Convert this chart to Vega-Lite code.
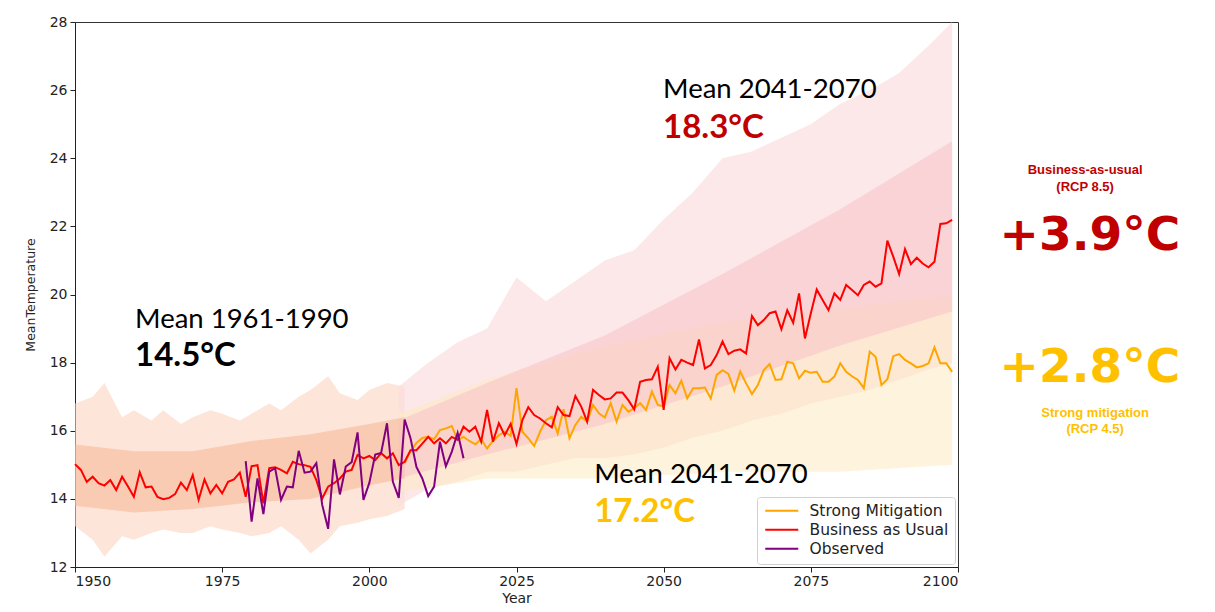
{
  "$schema": "https://vega.github.io/schema/vega-lite/v6.json",
  "autosize": {"type": "none"},
  "padding": {"left": 75, "top": 22, "right": 257, "bottom": 45},
  "width": 883,
  "height": 545,
  "background": "white",
  "data": {"values": [{}]},
  "datasets": {
    "hist_outer": [
      {"year":1950,"lo":13.2,"hi":16.8},{"year":1953,"lo":12.8,"hi":17.0},{"year":1955,"lo":12.3,"hi":17.4},{"year":1958,"lo":12.9,"hi":16.4},{"year":1960,"lo":12.8,"hi":16.6},{"year":1963,"lo":13.0,"hi":16.3},{"year":1965,"lo":13.1,"hi":16.6},{"year":1968,"lo":13.0,"hi":16.2},{"year":1970,"lo":13.0,"hi":16.4},{"year":1973,"lo":13.2,"hi":16.6},{"year":1975,"lo":13.1,"hi":16.5},{"year":1978,"lo":13.0,"hi":16.3},{"year":1980,"lo":12.9,"hi":16.5},{"year":1983,"lo":13.0,"hi":16.8},{"year":1985,"lo":13.2,"hi":16.6},{"year":1988,"lo":12.8,"hi":17.0},{"year":1990,"lo":12.4,"hi":17.2},{"year":1993,"lo":12.8,"hi":17.6},{"year":1995,"lo":13.2,"hi":17.1},{"year":1998,"lo":13.3,"hi":16.9},{"year":2000,"lo":13.4,"hi":17.2},{"year":2003,"lo":13.5,"hi":17.4},{"year":2006,"lo":13.7,"hi":17.3}
    ],
    "hist_inner": [
      {"year":1950,"lo":13.8,"hi":15.6},{"year":1960,"lo":13.6,"hi":15.4},{"year":1970,"lo":13.7,"hi":15.4},{"year":1980,"lo":13.9,"hi":15.7},{"year":1990,"lo":14.0,"hi":15.9},{"year":2000,"lo":14.4,"hi":16.2},{"year":2006,"lo":14.6,"hi":16.4}
    ],
    "bau_outer": [
      {"year":2005,"lo":13.8,"hi":17.3},{"year":2010,"lo":14.3,"hi":18.0},{"year":2015,"lo":14.5,"hi":18.6},{"year":2020,"lo":14.8,"hi":19.0},{"year":2025,"lo":14.8,"hi":20.5},{"year":2030,"lo":15.0,"hi":19.8},{"year":2035,"lo":15.2,"hi":20.4},{"year":2040,"lo":15.2,"hi":21.0},{"year":2045,"lo":15.3,"hi":21.3},{"year":2050,"lo":15.5,"hi":22.2},{"year":2055,"lo":15.8,"hi":23.0},{"year":2060,"lo":16.0,"hi":24.0},{"year":2065,"lo":16.3,"hi":24.2},{"year":2070,"lo":16.5,"hi":24.6},{"year":2075,"lo":16.8,"hi":25.0},{"year":2080,"lo":17.0,"hi":25.6},{"year":2085,"lo":17.2,"hi":26.0},{"year":2090,"lo":17.5,"hi":26.5},{"year":2095,"lo":17.8,"hi":27.3},{"year":2099,"lo":18.0,"hi":28.0}
    ],
    "bau_inner": [
      {"year":2005,"lo":14.6,"hi":16.3},{"year":2020,"lo":15.3,"hi":17.4},{"year":2040,"lo":16.2,"hi":18.8},{"year":2060,"lo":17.3,"hi":20.6},{"year":2080,"lo":18.5,"hi":22.5},{"year":2099,"lo":19.5,"hi":24.5}
    ],
    "mit_outer": [
      {"year":2005,"lo":14.2,"hi":16.5},{"year":2020,"lo":14.6,"hi":17.5},{"year":2040,"lo":14.6,"hi":18.5},{"year":2060,"lo":14.8,"hi":19.2},{"year":2080,"lo":14.8,"hi":19.6},{"year":2099,"lo":15.0,"hi":20.0}
    ],
    "bau": [
      {"year":1950,"temp":15.02},{"year":1951,"temp":14.85},{"year":1952,"temp":14.5},{"year":1953,"temp":14.65},{"year":1954,"temp":14.46},{"year":1955,"temp":14.39},{"year":1956,"temp":14.55},{"year":1957,"temp":14.26},{"year":1958,"temp":14.65},{"year":1959,"temp":14.36},
      {"year":1960,"temp":14.06},{"year":1961,"temp":14.78},{"year":1962,"temp":14.34},{"year":1963,"temp":14.36},{"year":1964,"temp":14.06},{"year":1965,"temp":13.99},{"year":1966,"temp":14.03},{"year":1967,"temp":14.14},{"year":1968,"temp":14.48},{"year":1969,"temp":14.26},
      {"year":1970,"temp":14.7},{"year":1971,"temp":13.97},{"year":1972,"temp":14.57},{"year":1973,"temp":14.16},{"year":1974,"temp":14.41},{"year":1975,"temp":14.16},{"year":1976,"temp":14.5},{"year":1977,"temp":14.57},{"year":1978,"temp":14.77},{"year":1979,"temp":14.06},
      {"year":1980,"temp":14.96},{"year":1981,"temp":14.99},{"year":1982,"temp":13.87},{"year":1983,"temp":14.9},{"year":1984,"temp":14.93},{"year":1985,"temp":14.85},{"year":1986,"temp":14.75},{"year":1987,"temp":15.09},{"year":1988,"temp":15.02},{"year":1989,"temp":14.99},
      {"year":1990,"temp":14.94},{"year":1991,"temp":14.55},{"year":1992,"temp":14.01},{"year":1993,"temp":14.36},{"year":1994,"temp":14.46},{"year":1995,"temp":14.6},{"year":1996,"temp":14.8},{"year":1997,"temp":14.85},{"year":1998,"temp":15.29},{"year":1999,"temp":15.19},
      {"year":2000,"temp":15.26},{"year":2001,"temp":15.14},{"year":2002,"temp":15.34},{"year":2003,"temp":15.19},{"year":2004,"temp":15.34},{"year":2005,"temp":14.99},{"year":2006,"temp":15.09},{"year":2007,"temp":15.43},{"year":2008,"temp":15.43},{"year":2009,"temp":15.62},
      {"year":2010,"temp":15.82},{"year":2011,"temp":15.63},{"year":2012,"temp":15.78},{"year":2013,"temp":15.63},{"year":2014,"temp":15.82},{"year":2015,"temp":15.73},{"year":2016,"temp":16.12},{"year":2017,"temp":15.97},{"year":2018,"temp":16.12},{"year":2019,"temp":15.68},
      {"year":2020,"temp":16.61},{"year":2021,"temp":15.68},{"year":2022,"temp":16.22},{"year":2023,"temp":15.87},{"year":2024,"temp":16.2},{"year":2025,"temp":15.61},{"year":2026,"temp":16.31},{"year":2027,"temp":16.69},{"year":2028,"temp":16.46},{"year":2029,"temp":16.36},
      {"year":2030,"temp":16.22},{"year":2031,"temp":16.1},{"year":2032,"temp":16.69},{"year":2033,"temp":16.46},{"year":2034,"temp":16.43},{"year":2035,"temp":17.02},{"year":2036,"temp":16.71},{"year":2037,"temp":16.27},{"year":2038,"temp":17.2},{"year":2039,"temp":17.05},
      {"year":2040,"temp":16.92},{"year":2041,"temp":16.95},{"year":2042,"temp":17.12},{"year":2043,"temp":17.12},{"year":2044,"temp":16.9},{"year":2045,"temp":16.63},{"year":2046,"temp":17.44},{"year":2047,"temp":17.49},{"year":2048,"temp":17.51},{"year":2049,"temp":17.88},
      {"year":2050,"temp":16.61},{"year":2051,"temp":18.13},{"year":2052,"temp":17.8},{"year":2053,"temp":18.08},{"year":2054,"temp":18.0},{"year":2055,"temp":17.93},{"year":2056,"temp":18.68},{"year":2057,"temp":17.83},{"year":2058,"temp":17.93},{"year":2059,"temp":18.22},
      {"year":2060,"temp":18.62},{"year":2061,"temp":18.25},{"year":2062,"temp":18.35},{"year":2063,"temp":18.39},{"year":2064,"temp":18.27},{"year":2065,"temp":19.37},{"year":2066,"temp":19.1},{"year":2067,"temp":19.25},{"year":2068,"temp":19.45},{"year":2069,"temp":19.5},
      {"year":2070,"temp":18.98},{"year":2071,"temp":19.54},{"year":2072,"temp":19.17},{"year":2073,"temp":20.03},{"year":2074,"temp":18.71},{"year":2075,"temp":19.45},{"year":2076,"temp":20.15},{"year":2077,"temp":19.84},{"year":2078,"temp":19.54},{"year":2079,"temp":20.03},
      {"year":2080,"temp":19.84},{"year":2081,"temp":20.28},{"year":2082,"temp":20.13},{"year":2083,"temp":19.98},{"year":2084,"temp":20.28},{"year":2085,"temp":20.38},{"year":2086,"temp":20.23},{"year":2087,"temp":20.33},{"year":2088,"temp":21.58},{"year":2089,"temp":21.11},
      {"year":2090,"temp":20.6},{"year":2091,"temp":21.33},{"year":2092,"temp":20.89},{"year":2093,"temp":21.08},{"year":2094,"temp":20.91},{"year":2095,"temp":20.8},{"year":2096,"temp":20.96},{"year":2097,"temp":22.07},{"year":2098,"temp":22.09},{"year":2099,"temp":22.19}
    ],
    "mit": [
      {"year":2006,"temp":15.05},{"year":2007,"temp":15.4},{"year":2008,"temp":15.64},{"year":2009,"temp":15.79},
      {"year":2010,"temp":15.82},{"year":2011,"temp":15.75},{"year":2012,"temp":16.02},{"year":2013,"temp":16.07},{"year":2014,"temp":16.14},{"year":2015,"temp":15.73},{"year":2016,"temp":15.82},{"year":2017,"temp":15.7},{"year":2018,"temp":15.6},{"year":2019,"temp":15.75},
      {"year":2020,"temp":15.48},{"year":2021,"temp":15.7},{"year":2022,"temp":15.87},{"year":2023,"temp":15.97},{"year":2024,"temp":15.85},{"year":2025,"temp":17.25},{"year":2026,"temp":15.97},{"year":2027,"temp":15.78},{"year":2028,"temp":15.55},{"year":2029,"temp":15.97},
      {"year":2030,"temp":16.31},{"year":2031,"temp":16.41},{"year":2032,"temp":15.92},{"year":2033,"temp":16.63},{"year":2034,"temp":15.78},{"year":2035,"temp":16.17},{"year":2036,"temp":16.41},{"year":2037,"temp":16.27},{"year":2038,"temp":16.76},{"year":2039,"temp":16.51},
      {"year":2040,"temp":16.39},{"year":2041,"temp":16.81},{"year":2042,"temp":16.27},{"year":2043,"temp":16.76},{"year":2044,"temp":16.56},{"year":2045,"temp":16.66},{"year":2046,"temp":16.81},{"year":2047,"temp":16.61},{"year":2048,"temp":17.15},{"year":2049,"temp":16.76},
      {"year":2050,"temp":16.71},{"year":2051,"temp":17.34},{"year":2052,"temp":17.1},{"year":2053,"temp":17.47},{"year":2054,"temp":16.95},{"year":2055,"temp":17.25},{"year":2056,"temp":17.25},{"year":2057,"temp":17.27},{"year":2058,"temp":16.95},{"year":2059,"temp":17.64},
      {"year":2060,"temp":17.78},{"year":2061,"temp":17.67},{"year":2062,"temp":17.18},{"year":2063,"temp":17.74},{"year":2064,"temp":17.39},{"year":2065,"temp":17.08},{"year":2066,"temp":17.34},{"year":2067,"temp":17.78},{"year":2068,"temp":17.96},{"year":2069,"temp":17.49},
      {"year":2070,"temp":17.51},{"year":2071,"temp":18.03},{"year":2072,"temp":17.98},{"year":2073,"temp":17.54},{"year":2074,"temp":17.76},{"year":2075,"temp":17.7},{"year":2076,"temp":17.73},{"year":2077,"temp":17.44},{"year":2078,"temp":17.44},{"year":2079,"temp":17.59},
      {"year":2080,"temp":17.98},{"year":2081,"temp":17.73},{"year":2082,"temp":17.6},{"year":2083,"temp":17.49},{"year":2084,"temp":17.25},{"year":2085,"temp":18.32},{"year":2086,"temp":18.17},{"year":2087,"temp":17.34},{"year":2088,"temp":17.51},{"year":2089,"temp":18.19},
      {"year":2090,"temp":18.25},{"year":2091,"temp":18.08},{"year":2092,"temp":17.98},{"year":2093,"temp":17.86},{"year":2094,"temp":17.9},{"year":2095,"temp":17.98},{"year":2096,"temp":18.45},{"year":2097,"temp":17.98},{"year":2098,"temp":17.98},{"year":2099,"temp":17.73}
    ],
    "obs": [
      {"year":1979,"temp":15.11},{"year":1980,"temp":13.33},{"year":1981,"temp":14.6},{"year":1982,"temp":13.55},{"year":1983,"temp":14.8},{"year":1984,"temp":14.9},{"year":1985,"temp":13.97},{"year":1986,"temp":14.36},{"year":1987,"temp":14.34},{"year":1988,"temp":15.41},
      {"year":1989,"temp":14.77},{"year":1990,"temp":14.8},{"year":1991,"temp":15.05},{"year":1992,"temp":13.82},{"year":1993,"temp":13.12},{"year":1994,"temp":15.16},{"year":1995,"temp":14.13},{"year":1996,"temp":14.95},{"year":1997,"temp":15.08},{"year":1998,"temp":15.95},
      {"year":1999,"temp":13.97},{"year":2000,"temp":14.47},{"year":2001,"temp":15.3},{"year":2002,"temp":15.35},{"year":2003,"temp":16.22},{"year":2004,"temp":14.5},{"year":2005,"temp":14.03},{"year":2006,"temp":16.33},{"year":2007,"temp":15.78},{"year":2008,"temp":14.94},
      {"year":2009,"temp":14.6},{"year":2010,"temp":14.08},{"year":2011,"temp":14.36},{"year":2012,"temp":15.68},{"year":2013,"temp":14.96},{"year":2014,"temp":15.38},{"year":2015,"temp":15.94},{"year":2016,"temp":15.19}
    ]
  },
  "config": {
    "view": {"stroke": "#333", "strokeWidth": 1},
    "axis": {"grid": false, "domainColor": "#222", "tickColor": "#222", "tickSize": 5, "labelFont": "DejaVu Sans", "labelFontSize": 14, "labelColor": "#222", "titleFont": "DejaVu Sans", "titleFontWeight": "normal", "titleColor": "#222"},
    "legend": {"orient": "bottom-right", "offset": 3, "padding": 6, "strokeColor": "#d0d0d0", "fillColor": "white", "cornerRadius": 3, "labelFont": "DejaVu Sans", "labelFontSize": 15.5, "labelColor": "#222", "symbolType": "M-1,0H5", "symbolSize": 121, "symbolStrokeWidth": 2, "labelOffset": 31, "rowPadding": 2}
  },
  "layer": [
    {"data": {"name": "hist_outer"}, "mark": {"type": "area", "color": "#fbd5c0", "opacity": 0.6},
     "encoding": {
       "x": {"field": "year", "type": "quantitative", "scale": {"domain": [1950, 2100], "nice": false}, "title": "Year",
             "axis": {"values": [1950, 1975, 2000, 2025, 2050, 2075, 2100], "format": "d", "labelPadding": 2, "titleFontSize": 14, "titlePadding": 3}},
       "y": {"field": "lo", "type": "quantitative", "scale": {"domain": [12, 28], "nice": false, "zero": false}, "title": "MeanTemperature",
             "axis": {"values": [12, 14, 16, 18, 20, 22, 24, 26, 28], "labelPadding": 3, "titleFontSize": 12.5, "titlePadding": 12}},
       "y2": {"field": "hi"}}},
    {"data": {"name": "bau_outer"}, "mark": {"type": "area", "color": "#fbdde0", "opacity": 0.7},
     "encoding": {"x": {"field": "year", "type": "quantitative"}, "y": {"field": "lo", "type": "quantitative"}, "y2": {"field": "hi"}}},
    {"data": {"name": "mit_outer"}, "mark": {"type": "area", "color": "#feebc4", "opacity": 0.6},
     "encoding": {"x": {"field": "year", "type": "quantitative"}, "y": {"field": "lo", "type": "quantitative"}, "y2": {"field": "hi"}}},
    {"data": {"name": "hist_inner"}, "mark": {"type": "area", "color": "#f7b08e", "opacity": 0.5},
     "encoding": {"x": {"field": "year", "type": "quantitative"}, "y": {"field": "lo", "type": "quantitative"}, "y2": {"field": "hi"}}},
    {"data": {"name": "bau_inner"}, "mark": {"type": "area", "color": "#f8c0c6", "opacity": 0.5},
     "encoding": {"x": {"field": "year", "type": "quantitative"}, "y": {"field": "lo", "type": "quantitative"}, "y2": {"field": "hi"}}},
    {"data": {"name": "mit"}, "mark": {"type": "line", "strokeWidth": 2},
     "encoding": {"x": {"field": "year", "type": "quantitative"}, "y": {"field": "temp", "type": "quantitative"},
       "color": {"datum": "Strong Mitigation", "type": "nominal", "title": null,
         "scale": {"domain": ["Strong Mitigation", "Business as Usual", "Observed"], "range": ["#ffa500", "#ff0000", "#800080"]}}}},
    {"data": {"name": "bau"}, "mark": {"type": "line", "strokeWidth": 2},
     "encoding": {"x": {"field": "year", "type": "quantitative"}, "y": {"field": "temp", "type": "quantitative"},
       "color": {"datum": "Business as Usual", "type": "nominal", "title": null}}},
    {"data": {"name": "obs"}, "mark": {"type": "line", "strokeWidth": 2},
     "encoding": {"x": {"field": "year", "type": "quantitative"}, "y": {"field": "temp", "type": "quantitative"},
       "color": {"datum": "Observed", "type": "nominal", "title": null}}},
    {"mark": {"type": "text", "text": "Mean 1961-1990", "align": "left", "baseline": "alphabetic", "font": "Lato", "fontSize": 27.5, "color": "#000"},
     "encoding": {"x": {"datum": 1960.2, "type": "quantitative"}, "y": {"datum": 19.02, "type": "quantitative"}}},
    {"mark": {"type": "text", "text": "14.5°C", "align": "left", "baseline": "alphabetic", "font": "Lato", "fontWeight": "bold", "fontSize": 33, "color": "#000"},
     "encoding": {"x": {"datum": 1960.2, "type": "quantitative"}, "y": {"datum": 17.9, "type": "quantitative"}}},
    {"mark": {"type": "text", "text": "Mean 2041-2070", "align": "left", "baseline": "alphabetic", "font": "Lato", "fontSize": 27.5, "color": "#000"},
     "encoding": {"x": {"datum": 2049.9, "type": "quantitative"}, "y": {"datum": 25.77, "type": "quantitative"}}},
    {"mark": {"type": "text", "text": "18.3°C", "align": "left", "baseline": "alphabetic", "font": "Lato", "fontWeight": "bold", "fontSize": 33, "color": "#c00000"},
     "encoding": {"x": {"datum": 2049.9, "type": "quantitative"}, "y": {"datum": 24.59, "type": "quantitative"}}},
    {"mark": {"type": "text", "text": "Mean 2041-2070", "align": "left", "baseline": "alphabetic", "font": "Lato", "fontSize": 27.5, "color": "#000"},
     "encoding": {"x": {"datum": 2038.2, "type": "quantitative"}, "y": {"datum": 14.47, "type": "quantitative"}}},
    {"mark": {"type": "text", "text": "17.2°C", "align": "left", "baseline": "alphabetic", "font": "Lato", "fontWeight": "bold", "fontSize": 33, "color": "#ffc000"},
     "encoding": {"x": {"datum": 2038.2, "type": "quantitative"}, "y": {"datum": 13.32, "type": "quantitative"}}},
    {"mark": {"type": "text", "text": "Business-as-usual", "align": "center", "baseline": "alphabetic", "font": "Liberation Sans", "fontWeight": "bold", "fontSize": 13, "color": "#c00000"},
     "encoding": {"x": {"datum": 2121.6, "type": "quantitative"}, "y": {"datum": 23.55, "type": "quantitative"}}},
    {"mark": {"type": "text", "text": "(RCP 8.5)", "align": "center", "baseline": "alphabetic", "font": "Liberation Sans", "fontWeight": "bold", "fontSize": 13, "color": "#c00000"},
     "encoding": {"x": {"datum": 2121.6, "type": "quantitative"}, "y": {"datum": 23.05, "type": "quantitative"}}},
    {"mark": {"type": "text", "text": "+3.9°C", "align": "center", "baseline": "alphabetic", "font": "DejaVu Sans", "fontWeight": "bold", "fontSize": 47, "color": "#c00000"},
     "encoding": {"x": {"datum": 2122.4, "type": "quantitative"}, "y": {"datum": 21.31, "type": "quantitative"}}},
    {"mark": {"type": "text", "text": "+2.8°C", "align": "center", "baseline": "alphabetic", "font": "DejaVu Sans", "fontWeight": "bold", "fontSize": 47, "color": "#ffc000"},
     "encoding": {"x": {"datum": 2122.4, "type": "quantitative"}, "y": {"datum": 17.44, "type": "quantitative"}}},
    {"mark": {"type": "text", "text": "Strong mitigation", "align": "center", "baseline": "alphabetic", "font": "Liberation Sans", "fontWeight": "bold", "fontSize": 13, "color": "#ffc000"},
     "encoding": {"x": {"datum": 2123.3, "type": "quantitative"}, "y": {"datum": 16.41, "type": "quantitative"}}},
    {"mark": {"type": "text", "text": "(RCP 4.5)", "align": "center", "baseline": "alphabetic", "font": "Liberation Sans", "fontWeight": "bold", "fontSize": 13, "color": "#ffc000"},
     "encoding": {"x": {"datum": 2123.3, "type": "quantitative"}, "y": {"datum": 15.94, "type": "quantitative"}}}
  ]
}
